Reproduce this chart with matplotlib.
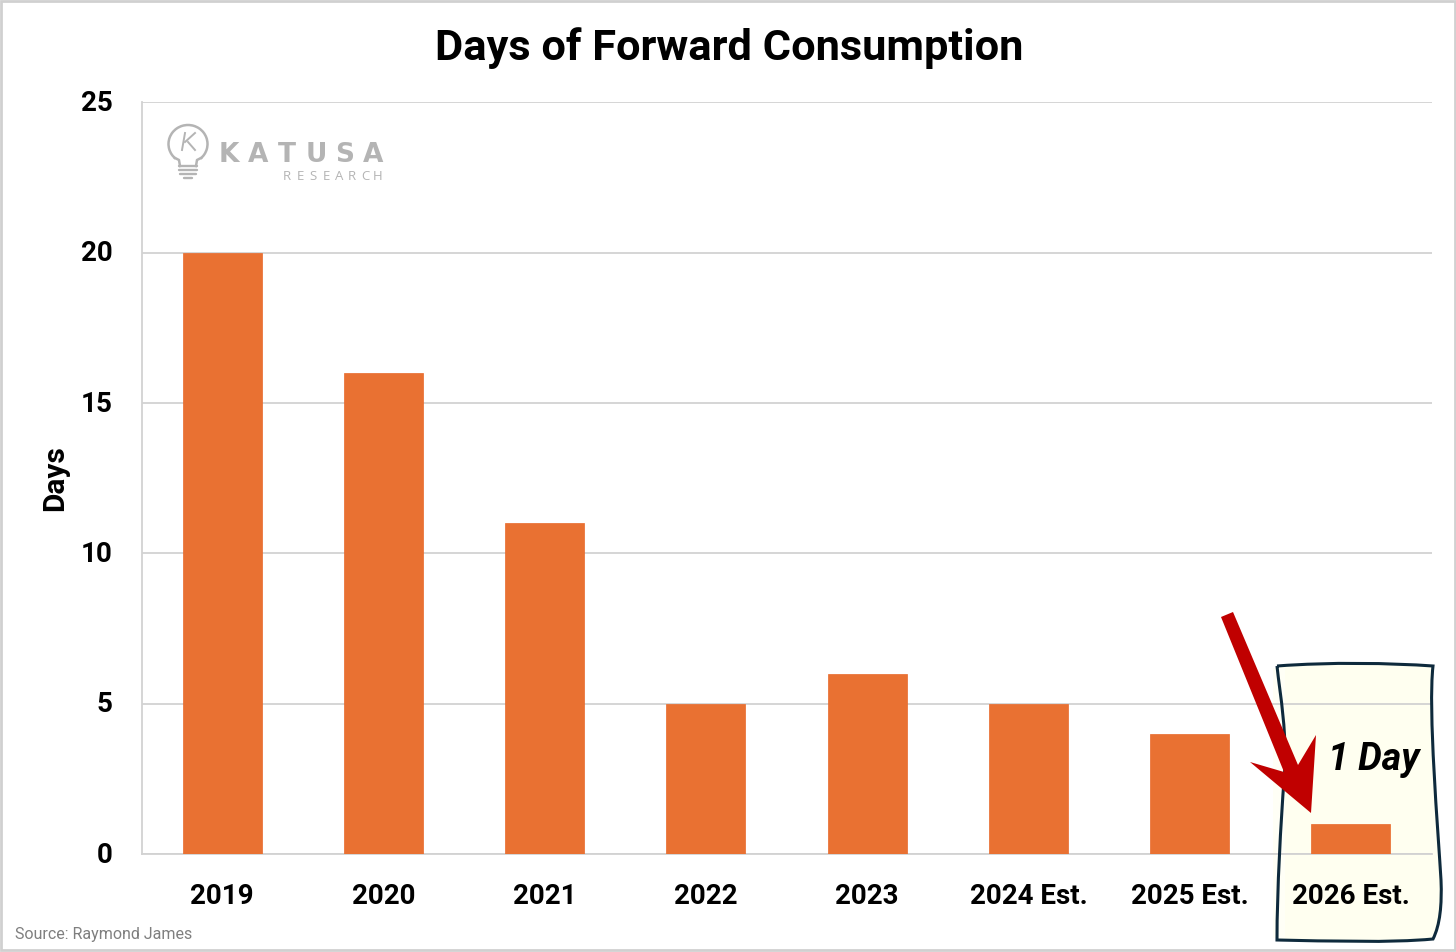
import numpy as np
import matplotlib
matplotlib.use("Agg")
import matplotlib.pyplot as plt
from matplotlib.patches import Polygon, PathPatch, Rectangle, Arc
from matplotlib.path import Path
from matplotlib.transforms import Affine2D

categories = ["2019", "2020", "2021", "2022", "2023", "2024 Est.", "2025 Est.", "2026 Est."]
days = [20, 16, 11, 5, 6, 5, 4, 1]
y_ticks = [0, 5, 10, 15, 20, 25]

FONT = "Roboto"
W, H = 1456, 952

fig = plt.figure(figsize=(W / 100, H / 100), dpi=100, facecolor="white")

# overlay in pixel coordinates, for border, note box, arrow and logo
bg = fig.add_axes([0, 0, 1, 1], zorder=0)
bg.set_xlim(0, W)
bg.set_ylim(H, 0)
bg.axis("off")

top = fig.add_axes([0, 0, 1, 1], zorder=5)
top.set_xlim(0, W)
top.set_ylim(H, 0)
top.axis("off")
top.patch.set_alpha(0)

ax = fig.add_axes([141.5 / W, 1 - 854.2 / H, (1431.5 - 141.5) / W, (854.2 - 102.2) / H], zorder=2)
ax.patch.set_alpha(0)
x = np.arange(len(categories))
ax.bar(x, days, width=0.49, color="#E97132", edgecolor="#E8692A", linewidth=0.5, zorder=3)
ax.set_xlim(-0.5, len(categories) - 0.5)
ax.set_ylim(0, 25)
ax.set_yticks(y_ticks)
ax.set_xticks(x)
ax.set_xticklabels(categories)
ax.tick_params(axis="both", length=0, labelsize=20, pad=0)
ax.tick_params(axis="x", pad=21)
ax.tick_params(axis="y", pad=21)
for lab in ax.get_xticklabels() + ax.get_yticklabels():
    lab.set_fontfamily(FONT)
    lab.set_fontweight("bold")
    lab.set_color("black")
# y labels sit 2 px higher than matplotlib centres them
for lab in ax.get_yticklabels():
    lab.set_transform(lab.get_transform() + Affine2D().translate(0, 2))
ax.yaxis.grid(True, color="#D2D2D2", linewidth=1.3, zorder=0)
ax.set_axisbelow(True)
for s in ["top", "right"]:
    ax.spines[s].set_visible(False)
for s in ["left", "bottom"]:
    ax.spines[s].set_color("#D2D2D2")
    ax.spines[s].set_linewidth(1.3)

fig.text(729 / W, 1 - 48 / H, "Days of Forward Consumption", ha="center", va="center",
         fontsize=31.2, fontweight="bold", family=FONT, color="black")
fig.text(55 / W, 1 - 478 / H, "Days", rotation=90, ha="center", va="center",
         fontsize=21.5, fontweight="bold", family=FONT, color="black")
fig.text(15 / W, 1 - 935 / H, "Source: Raymond James", ha="left", va="center",
         fontsize=11.5, family=FONT, color="#7F7F7F")

# outer border
bg.add_patch(Rectangle((1, 1), W - 2, H - 3, fill=False, edgecolor="#D0D0D0", linewidth=2))

# hand drawn note box
box_verts = [
    (1277, 666),
    (1330, 662), (1390, 663), (1433, 666),
    (1428, 710), (1438, 830), (1441, 880),
    (1442, 905), (1440, 925), (1433, 939),
    (1390, 943), (1330, 941), (1277, 940),
    (1277, 890), (1281, 820), (1284, 780),
    (1288, 735), (1280, 695), (1277, 666),
]
box_codes = [Path.MOVETO] + [Path.CURVE4] * 18
box = Path(box_verts, box_codes)
bg.add_patch(PathPatch(box, facecolor="#FFFFF0", edgecolor="none"))
bg.add_patch(Rectangle((1273, 668), 12, 270, facecolor="#FFFFF6", edgecolor="none"))
top.add_patch(PathPatch(box, facecolor="none", edgecolor="#0E2A3C", linewidth=2.2))
top.text(1373.5, 759, "1 Day", ha="center", va="center", fontsize=27, fontweight="bold",
         fontstyle="italic", family=FONT, color="black")

# red arrow
arrow = [(1221, 617), (1233, 612), (1298, 765), (1316, 735), (1311, 813),
         (1250, 762), (1284, 772)]
top.add_patch(Polygon(arrow, closed=True, facecolor="#C00000", edgecolor="none"))

# logo
grey = "#B4B4B4"
top.add_patch(Arc((188, 144), 39, 38, theta1=130, theta2=50, edgecolor=grey, linewidth=1.8))
top.plot([175, 179, 180], [158, 160, 166], color=grey, lw=1.8)
top.plot([201, 197, 196], [158, 160, 166], color=grey, lw=1.8)
for y0, x0, x1 in [(166, 179, 197), (170, 179, 197), (174, 180, 196)]:
    top.plot([x0, x1], [y0, y0], color=grey, lw=1.7, solid_capstyle="round")
top.plot([184, 192], [178, 178], color=grey, lw=1.7, solid_capstyle="round")
top.plot([182, 185], [150, 133], color=grey, lw=1.4)
top.plot([185, 195], [142, 133], color=grey, lw=1.4)
top.plot([188, 195], [142, 150], color=grey, lw=1.4)
for cx, ch in zip([229, 258, 287, 316, 345, 373], "KATUSA"):
    top.text(cx, 154.5, ch, ha="center", va="center", fontsize=19, fontweight="bold",
             family="DejaVu Sans", color=grey)
for cx, ch in zip([287, 300, 313, 326, 339, 352, 365, 378], "RESEARCH"):
    top.text(cx, 176, ch, ha="center", va="center", fontsize=9.5,
             family="Open Sans", color=grey)

fig.savefig("out.png", dpi=100)
plt.close(fig)
